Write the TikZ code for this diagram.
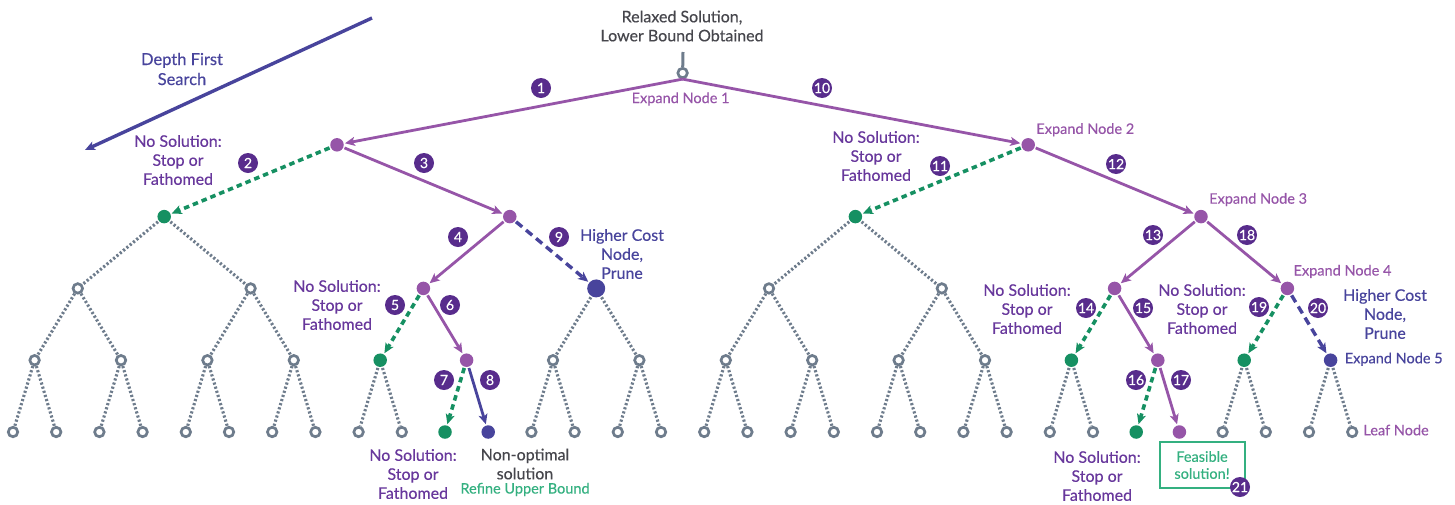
\documentclass[tikz,border=0pt]{standalone}
\usepackage{fontspec}
\setmainfont{Lato}[FakeBold=0.35]
\usetikzlibrary{arrows.meta}
\usetikzlibrary{positioning}

\definecolor{purp}{RGB}{150,85,168}
\definecolor{badgec}{RGB}{88,44,140}
\definecolor{nosolc}{RGB}{104,56,156}
\definecolor{indig}{RGB}{72,68,156}
\definecolor{greenc}{RGB}{22,144,98}
\definecolor{lgreen}{RGB}{52,176,128}
\definecolor{slate}{RGB}{110,124,140}
\definecolor{darkt}{RGB}{70,70,76}

\tikzstyle{leaf} = [circle, draw=slate, line width=2.7pt, minimum size=9.5pt, inner sep=0pt]
\tikzstyle{pdot} = [draw=none, fill=purp, minimum size=13.5pt]
\tikzstyle{gdot} = [draw=none, fill=greenc, minimum size=13.5pt]
\tikzstyle{idot} = [draw=none, fill=indig, minimum size=13.5pt]
\tikzstyle{bigdot} = [draw=none, fill=indig, minimum size=18pt]
\tikzstyle{badge} = [circle, fill=badgec, text=white, minimum size=20pt, inner sep=0pt, font=\fontsize{14}{14}\selectfont]
\tikzstyle{tip} = [-{Stealth[length=10pt,width=9pt,inset=2.5pt]}]
\tikzstyle{gedge} = [draw=slate, line width=3.1pt, dash pattern=on 2.2pt off 2.1pt]
\tikzstyle{pline} = [draw=purp, line width=2.8pt, tip]
\tikzstyle{gline} = [draw=greenc, line width=3.6pt, dash pattern=on 5.5pt off 4pt, tip]
\tikzstyle{iline} = [draw=indig, line width=3.4pt, dash pattern=on 8pt off 5pt, tip]
\tikzstyle{isolid} = [draw=indig, line width=2.8pt, tip]
\tikzstyle{nosol} = [text=nosolc, align=center, inner sep=0pt, font=\fontsize{16}{19}\selectfont]
\tikzstyle{costly} = [text=indig, align=center, inner sep=0pt, font=\fontsize{16}{19}\selectfont]
\tikzstyle{expand} = [text=purp, inner sep=0pt, anchor=west, font=\fontsize{14.5}{16}\selectfont]

\tikzset{
  done/.style={draw=none},
  % node looks along the searched path
  s-1-0/.style=pdot, s-1-1/.style=pdot,
  s-2-0/.style=gdot, s-2-1/.style=pdot, s-2-2/.style=gdot, s-2-3/.style=pdot,
  s-3-2/.style=pdot, s-3-3/.style=bigdot, s-3-6/.style=pdot, s-3-7/.style=pdot,
  s-4-4/.style=gdot, s-4-5/.style=pdot, s-4-12/.style=gdot, s-4-13/.style=pdot,
  s-4-14/.style=gdot, s-4-15/.style=idot,
  s-5-10/.style=gdot, s-5-11/.style=idot, s-5-26/.style=gdot, s-5-27/.style=pdot,
  % edges drawn by hand below
  e-1-0/.style=done, e-1-1/.style=done,
  e-2-0/.style=done, e-2-1/.style=done, e-2-2/.style=done, e-2-3/.style=done,
  e-3-2/.style=done, e-3-3/.style=done, e-3-6/.style=done, e-3-7/.style=done,
  e-4-4/.style=done, e-4-5/.style=done, e-4-12/.style=done, e-4-13/.style=done,
  e-4-14/.style=done, e-4-15/.style=done,
  e-5-10/.style=done, e-5-11/.style=done, e-5-26/.style=done, e-5-27/.style=done,
}

\begin{document}
\begin{tikzpicture}[x=1pt, y=-1pt]
    \useasboundingbox (0,0) rectangle (1455,504);

    % the tree
    \foreach \L in {0,...,5}{
      \pgfmathtruncatemacro\N{2^\L-1}
      \foreach \i in {0,...,\N}{
        \pgfmathsetmacro\x{13+43.2*(2^(5-\L)*(\i+0.5)-0.5)}
        \pgfmathsetmacro\y{73+71.8*\L}
        \node(n-\L-\i)[leaf, s-\L-\i/.try] at (\x,\y) {};
      }
    }
    \foreach \L in {1,...,5}{
      \pgfmathtruncatemacro\N{2^\L-1}
      \pgfmathtruncatemacro\K{\L-1}
      \foreach \i in {0,...,\N}{
        \pgfmathtruncatemacro\p{floor(\i/2)}
        \draw[gedge, e-\L-\i/.try](n-\K-\p)--(n-\L-\i);
      }
    }

    \coordinate(stemtop) at (683,52);
    \draw[draw=slate, line width=3pt](n-0-0)--(stemtop);
    \node(relax)[text=darkt, align=center, font=\fontsize{16}{19}\selectfont] at (682,26) {Relaxed Solution,\\Lower Bound Obtained};

    % search path
    \draw[pline](n-0-0.south)--(n-1-0);
    \draw[gline](n-1-0)--(n-2-0);
    \draw[pline](n-1-0)--(n-2-1);
    \draw[pline](n-2-1)--(n-3-2);
    \draw[gline](n-3-2)--(n-4-4);
    \draw[pline](n-3-2)--(n-4-5);
    \draw[gline](n-4-5)--(n-5-10);
    \draw[isolid](n-4-5)--(n-5-11);
    \draw[iline](n-2-1)--(n-3-3);
    \draw[pline](n-0-0.south)--(n-1-1);
    \draw[gline](n-1-1)--(n-2-2);
    \draw[pline](n-1-1)--(n-2-3);
    \draw[pline](n-2-3)--(n-3-6);
    \draw[gline](n-3-6)--(n-4-12);
    \draw[pline](n-3-6)--(n-4-13);
    \draw[gline](n-4-13)--(n-5-26);
    \draw[pline](n-4-13)--(n-5-27);
    \draw[pline](n-2-3)--(n-3-7);
    \draw[gline](n-3-7)--(n-4-14);
    \draw[iline](n-3-7)--(n-4-15);

    % step numbers
    \node(b1)[badge] at (541,88) {1};
    \node(b2)[badge] at (248,163) {2};
    \node(b3)[badge] at (424,163) {3};
    \node(b4)[badge] at (458,237) {4};
    \node(b5)[badge] at (395,305) {5};
    \node(b6)[badge] at (450,305) {6};
    \node(b7)[badge] at (444,380) {7};
    \node(b8)[badge] at (490,380) {8};
    \node(b9)[badge] at (559,237) {9};
    \node(b10)[badge] at (822,88) {10};
    \node(b11)[badge] at (940,166) {11};
    \node(b12)[badge] at (1116,164) {12};
    \node(b13)[badge] at (1153,235) {13};
    \node(b14)[badge] at (1086,308) {14};
    \node(b15)[badge] at (1143,308) {15};
    \node(b16)[badge] at (1136,380) {16};
    \node(b17)[badge] at (1181,380) {17};
    \node(b18)[badge] at (1247,235) {18};
    \node(b19)[badge] at (1259,307) {19};
    \node(b20)[badge] at (1318,308) {20};

    % labels
    \node(ex1)[expand, anchor=center] at ([shift={(-2,26)}]n-0-0) {Expand Node 1};
    \node(ex2)[expand] at ([shift={(8,-15)}]n-1-1) {Expand Node 2};
    \node(ex3)[expand] at ([shift={(8,-17)}]n-2-3) {Expand Node 3};
    \node(ex4)[expand] at ([shift={(6,-17)}]n-3-7) {Expand Node 4};
    \node(ex5)[expand, text=indig] at ([shift={(14,-1)}]n-4-15) {Expand Node 5};
    \node(leaflbl)[expand] at ([shift={(11,-2)}]n-5-31) {Leaf Node};

    \coordinate(dfs-a) at (372,18);
    \coordinate(dfs-b) at (85,150);
    \draw[draw=indig, line width=3.4pt, tip](dfs-a)--(dfs-b);
    \node(dfs)[costly, font=\fontsize{16.5}{20}\selectfont] at (182,69) {Depth First\\Search};

    \node(ns1)[nosol] at (178,160) {No Solution:\\Stop or\\Fathomed};
    \node(ns2)[nosol] at (876,156) {No Solution:\\Stop or\\Fathomed};
    \node(ns3)[nosol] at (337,305) {No Solution:\\Stop or\\Fathomed};
    \node(ns4)[nosol] at (413,474) {No Solution:\\Stop or\\Fathomed};
    \node(ns5)[nosol] at (1027,309) {No Solution:\\Stop or\\Fathomed};
    \node(ns6)[nosol] at (1202,309) {No Solution:\\Stop or\\Fathomed};
    \node(ns7)[nosol] at (1097,476) {No Solution:\\Stop or\\Fathomed};
    \node(hc1)[costly] at (622,254) {Higher Cost\\Node,\\Prune};
    \node(hc2)[costly] at (1385,314) {Higher Cost\\Node,\\Prune};

    \node(nonopt)[text=darkt, align=center, inner sep=0pt, font=\fontsize{16}{19}\selectfont] at (525,464) {Non-optimal\\solution};
    \node(refine)[text=lgreen, inner sep=0pt, font=\fontsize{14.5}{16}\selectfont, below=3pt of nonopt] {Refine Upper Bound};

    \node(feas)[draw=lgreen, line width=2pt, text=lgreen, align=center, minimum width=85pt, minimum height=46pt, inner sep=0pt, font=\fontsize{14.5}{17}\selectfont] at (1202,465) {Feasible\\solution!};
    \node(b21)[badge] at (1240,487) {21};
  \end{tikzpicture}
\end{document}
